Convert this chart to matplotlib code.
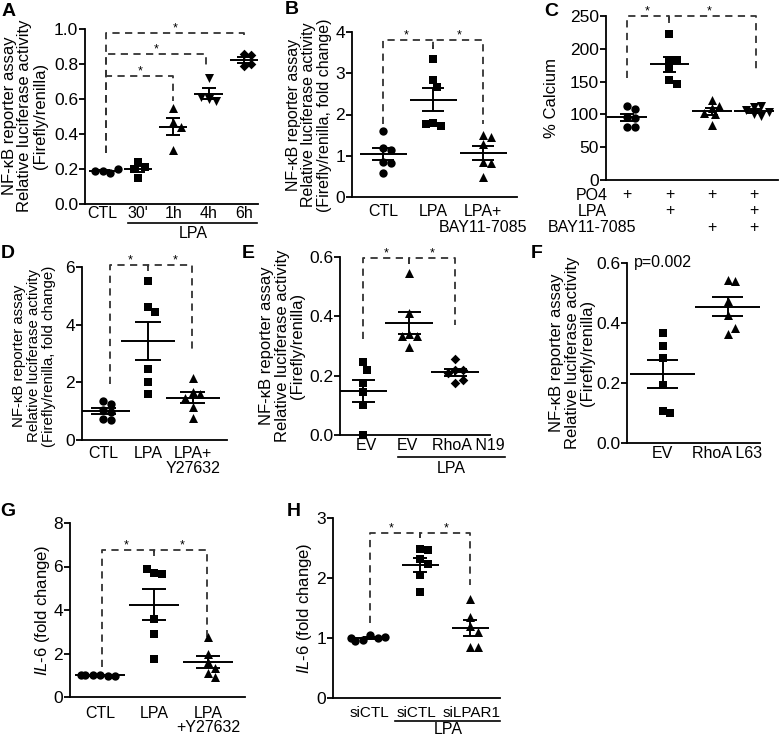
import numpy as np
import matplotlib
matplotlib.use('Agg')
import matplotlib.pyplot as plt
import matplotlib.transforms as mtransforms
from matplotlib.lines import Line2D

plt.rcParams['font.family'] = ['Liberation Sans', 'DejaVu Sans']
plt.rcParams['mathtext.fontset'] = 'custom'
plt.rcParams['mathtext.it'] = 'Liberation Sans:italic'
plt.rcParams['mathtext.rm'] = 'Liberation Sans'

# ---- data ----
a_labels = ['CTL', "30'", '1h', '4h', '6h']
a_values = [[0.19, 0.18, 0.19, 0.20],
            [0.24, 0.15, 0.21, 0.20],
            [0.55, 0.47, 0.44, 0.31],
            [0.72, 0.60, 0.59, 0.61],
            [0.86, 0.85, 0.79, 0.80]]

b_labels = ['CTL', 'LPA', 'LPA+']
b_values = [[1.6, 1.2, 1.15, 0.85, 0.82, 0.59],
            [3.34, 2.84, 2.66, 1.79, 1.73, 1.77],
            [1.5, 1.45, 1.28, 0.85, 0.82, 0.48]]

c_rows = ['PO4', 'LPA', 'BAY11-7085']
c_plus = [[1, 1, 1, 1], [0, 1, 0, 1], [0, 0, 1, 1]]
c_values = [[113, 108, 96, 94, 81, 81],
            [223, 183, 183, 170, 153, 146],
            [122, 113, 110, 102, 100, 84],
            [112, 113, 107, 104, 100, 97]]

d_labels = ['CTL', 'LPA', 'LPA+']
d_values = [[1.35, 1.26, 1.03, 0.97, 0.72, 0.70],
            [5.5, 4.6, 4.45, 2.45, 2.0, 1.6],
            [2.15, 1.65, 1.6, 1.45, 1.15, 0.78]]

e_labels = ['EV', 'EV', 'RhoA N19']
e_values = [[0.245, 0.22, 0.175, 0.145, 0.10, 0.0],
            [0.545, 0.41, 0.34, 0.335, 0.335, 0.295],
            [0.255, 0.22, 0.22, 0.21, 0.175, 0.185]]

f_labels = ['EV', 'RhoA L63']
f_values = [[0.368, 0.323, 0.285, 0.192, 0.106, 0.10],
            [0.542, 0.539, 0.472, 0.427, 0.365, 0.382]]

g_labels = ['CTL', 'LPA', 'LPA']
g_values = [[1.02, 0.98, 1.0, 0.97, 1.01, 0.99],
            [5.7, 5.65, 5.9, 3.6, 2.9, 1.75],
            [2.75, 2.0, 1.6, 1.35, 1.1, 0.9]]

h_labels = ['siCTL', 'siCTL', 'siLPAR1']
h_values = [[1.05, 1.0, 0.97, 1.02, 0.95, 1.0],
            [2.49, 2.47, 2.31, 2.23, 2.05, 1.77],
            [1.65, 1.35, 1.2, 1.1, 0.85, 0.85]]

W, H = 781, 736
fig = plt.figure(figsize=(W / 100, H / 100), dpi=100)
DASH = (0, (4, 3))
GREY = '#333333'
TICK_FS = 12.5
LAB_FS = 11.5
YLAB_FS = 12


def make_axes(l, r, b, t, xlim, ylim, yticks, fmt):
    ax = fig.add_axes([l / W, 1 - b / H, (r - l) / W, (b - t) / H])
    ax.patch.set_visible(False)
    ax.set_xlim(xlim)
    ax.set_ylim(ylim)
    for s in ['top', 'right']:
        ax.spines[s].set_visible(False)
    for s in ['left', 'bottom']:
        ax.spines[s].set_linewidth(1.3)
    ax.set_xticks([])
    ax.set_yticks(yticks)
    ax.set_yticklabels([fmt.format(v) for v in yticks])
    ax.tick_params(axis='y', length=4, width=1.3, labelsize=TICK_FS, pad=1)
    ax.ppx = (r - l) / (xlim[1] - xlim[0])
    ax.ppy = (b - t) / (ylim[1] - ylim[0])
    return ax


def swarm_x(ax, vals, pos, d=7.5):
    placed = []
    xs = []
    for v in vals:
        y = v * ax.ppy
        for k in [0, 1, -1, 2, -2, 3, -3, 4, -4, 5, -5]:
            x = k * d / 2
            if all((x - px) ** 2 + (y - py) ** 2 >= d * d for px, py in placed):
                break
        placed.append((x, y))
        xs.append(pos + x / ax.ppx)
    return xs


def draw_group(ax, vals, pos, marker, mean_hw, cap_hw):
    size = {'o': 36, 's': 34, '^': 42, 'v': 42, 'D': 24}[marker]
    xs = swarm_x(ax, vals, pos)
    ax.scatter(xs, vals, marker=marker, s=size, c='black', linewidths=0,
               zorder=3, clip_on=False)
    m = np.mean(vals)
    se = np.std(vals, ddof=1) / np.sqrt(len(vals))
    ax.hlines(m, pos - mean_hw, pos + mean_hw, color='black', lw=1.4, zorder=4)
    ax.vlines(pos, m - se, m + se, color='black', lw=1.4, zorder=4)
    ax.hlines([m - se, m + se], pos - cap_hw, pos + cap_hw, color='black', lw=1.4, zorder=4)


def bracket(ax, x0, x1, ytop, y0, y1):
    ax.plot([x0, x0, x1, x1], [y0, ytop, ytop, y1], color=GREY, lw=1.3,
            ls=DASH, clip_on=False, zorder=2)


def star(ax, x, y):
    ax.annotate('*', (x, y), xytext=(0, 1), textcoords='offset points',
                ha='center', va='baseline', fontsize=9, annotation_clip=False)


def xlab(ax, x, ypx, s, fs=LAB_FS):
    tr = mtransforms.blended_transform_factory(ax.transData, fig.transFigure)
    ax.text(x, 1 - ypx / H, s, transform=tr, ha='center', va='center', fontsize=fs)


def ftext(xpx, ypx, s, fs=LAB_FS):
    fig.text(xpx / W, 1 - ypx / H, s, ha='center', va='center', fontsize=fs)


def underline(x0, x1, ypx):
    fig.add_artist(Line2D([x0 / W, x1 / W], [1 - ypx / H, 1 - ypx / H],
                          color='black', lw=1.2))


def ylabel(xpx, ypx, s, fs=YLAB_FS):
    fig.text(xpx / W, 1 - ypx / H, s, rotation=90, ha='center', va='center',
             fontsize=fs, linespacing=1.05)


def letter(xpx, ypx, s):
    fig.text(xpx / W, 1 - ypx / H, s, ha='center', va='center',
             fontsize=14, fontweight='bold')


nfkb = 'NF-\u03baB reporter assay\nRelative luciferase activity\n'

# ---- A ----
ax = make_axes(85, 258, 204, 29, (-0.5, 4.4), (0, 1.0),
               [0, 0.2, 0.4, 0.6, 0.8, 1.0], '{:.1f}')
for i, (vals, mk) in enumerate(zip(a_values, ['o', 's', '^', 'v', 'D'])):
    draw_group(ax, vals, i, mk, 0.4, 0.2)
for x1, yt, y1 in [(2, 0.73, 0.59), (2.93, 0.86, 0.78), (4, 0.98, 0.955)]:
    bracket(ax, 0.1, x1, yt, 0.29, y1)
    star(ax, (0.1 + x1) / 2, yt)
for i, s in enumerate(a_labels):
    xlab(ax, i, 214, s)
underline(128, 257, 223)
ftext(193, 234, 'LPA')
ylabel(25, 116, nfkb + '(Firefly/renilla)')
letter(9, 12, 'A')

# ---- B ----
ax = make_axes(352, 517, 197, 32, (-0.62, 2.68), (0, 4), [0, 1, 2, 3, 4], '{:d}')
for i, (vals, mk) in enumerate(zip(b_values, ['o', 's', '^'])):
    draw_group(ax, vals, i, mk, 0.47, 0.22)
bracket(ax, 0, 1, 3.81, 1.78, 3.6)
bracket(ax, 1, 2, 3.81, 3.6, 1.78)
star(ax, 0.47, 3.81)
star(ax, 1.52, 3.81)
for i, s in enumerate(b_labels):
    xlab(ax, i, 211, s)
xlab(ax, 2, 227, 'BAY11-7085')
ylabel(309, 115, nfkb + '(Firefly/renilla, fold change)', fs=11.5)
letter(292, 10, 'B')

# ---- C ----
ax = make_axes(606, 778, 180, 16, (-0.5, 3.57), (0, 250),
               [0, 50, 100, 150, 200, 250], '{:d}')
for i, (vals, mk) in enumerate(zip(c_values, ['o', 's', '^', 'v'])):
    draw_group(ax, vals, i, mk, 0.47, 0.16)
bracket(ax, 0, 1, 250, 156, 240)
bracket(ax, 1, 3.05, 250, 240, 163)
star(ax, 0.47, 250)
star(ax, 1.94, 250)
for r, (name, flags) in enumerate(zip(c_rows, c_plus)):
    ypx = [195, 211, 228][r]
    ftext(592, ypx, name)
    for i, f in enumerate(flags):
        if f:
            xlab(ax, i, ypx, '+')
ylabel(552, 98, '% Calcium')
letter(551, 12, 'C')

# ---- D ----
ax = make_axes(82, 227, 440, 267, (-0.47, 2.76), (0, 6), [0, 2, 4, 6], '{:d}')
for i, (vals, mk) in enumerate(zip(d_values, ['o', 's', '^'])):
    draw_group(ax, vals, i, mk, 0.6, 0.28)
bracket(ax, 0.16, 1, 6.08, 1.94, 5.85)
bracket(ax, 1, 1.98, 6.08, 5.85, 3.15)
star(ax, 0.6, 6.08)
star(ax, 1.6, 6.08)
for i, s in enumerate(d_labels):
    xlab(ax, i, 453, s)
xlab(ax, 2, 468, 'Y27632')
ylabel(34, 356, nfkb + '(Firefly/renilla, fold change)', fs=10.8)
letter(8, 254, 'D')

# ---- E ----
ax = make_axes(340, 490, 435, 257, (-0.5, 2.76), (0, 0.6),
               [0, 0.2, 0.4, 0.6], '{:.1f}')
for i, (vals, mk) in enumerate(zip(e_values, ['s', '^', 'D'])):
    draw_group(ax, vals, i, mk, 0.52, 0.25)
bracket(ax, 0, 1, 0.598, 0.322, 0.575)
bracket(ax, 1, 2, 0.598, 0.575, 0.37)
star(ax, 0.5, 0.598)
star(ax, 1.5, 0.598)
for x, s in zip([0.08, 0.97, 2.28], e_labels):
    xlab(ax, x, 446, s)
underline(398, 505, 457)
ftext(451, 468, 'LPA')
ylabel(282, 346, nfkb + '(Firefly/renilla)')
letter(248, 254, 'E')

# ---- F ----
ax = make_axes(627, 760, 443, 263, (-0.55, 1.5), (0, 0.6),
               [0, 0.2, 0.4, 0.6], '{:.1f}')
for i, (vals, mk) in enumerate(zip(f_values, ['s', '^'])):
    draw_group(ax, vals, i, mk, 0.5, 0.24)
ax.text(0, 0.6, 'p=0.002', ha='center', va='center', fontsize=LAB_FS)
for i, s in enumerate(f_labels):
    xlab(ax, i, 453, s)
ylabel(572, 353, nfkb + '(Firefly/renilla)')
letter(537, 253, 'F')

# ---- G ----
ax = make_axes(70, 245, 697, 523, (-0.56, 2.69), (0, 8), [0, 2, 4, 6, 8], '{:d}')
for i, (vals, mk) in enumerate(zip(g_values, ['o', 's', '^'])):
    draw_group(ax, vals, i, mk, 0.46, 0.22)
bracket(ax, 0.04, 1, 6.76, 1.4, 6.5)
bracket(ax, 1, 1.98, 6.76, 6.5, 2.6)
star(ax, 0.48, 6.76)
star(ax, 1.52, 6.76)
for i, s in enumerate(g_labels):
    xlab(ax, i, 714, s)
xlab(ax, 2, 728, '+Y27632')
ylabel(42, 610, r'$\it{IL}$-$\it{6}$ (fold change)')
letter(8, 512, 'G')

# ---- H ----
ax = make_axes(333, 500, 698, 518, (-0.74, 2.6), (0, 3), [0, 1, 2, 3], '{:d}')
for i, (vals, mk) in enumerate(zip(h_values, ['o', 's', '^'])):
    draw_group(ax, vals, i, mk, 0.37, 0.14)
bracket(ax, 0, 1, 2.75, 1.25, 2.66)
bracket(ax, 1, 2, 2.75, 2.66, 1.88)
star(ax, 0.42, 2.75)
star(ax, 1.53, 2.75)
for x, s in zip([-0.02, 0.92, 2.04], h_labels):
    xlab(ax, x, 713, s, fs=11)
underline(395, 500, 721)
ftext(448, 729, 'LPA')
ylabel(305, 608, r'$\it{IL}$-$\it{6}$ (fold change)')
letter(294, 512, 'H')

fig.savefig('out.png', dpi=100)
